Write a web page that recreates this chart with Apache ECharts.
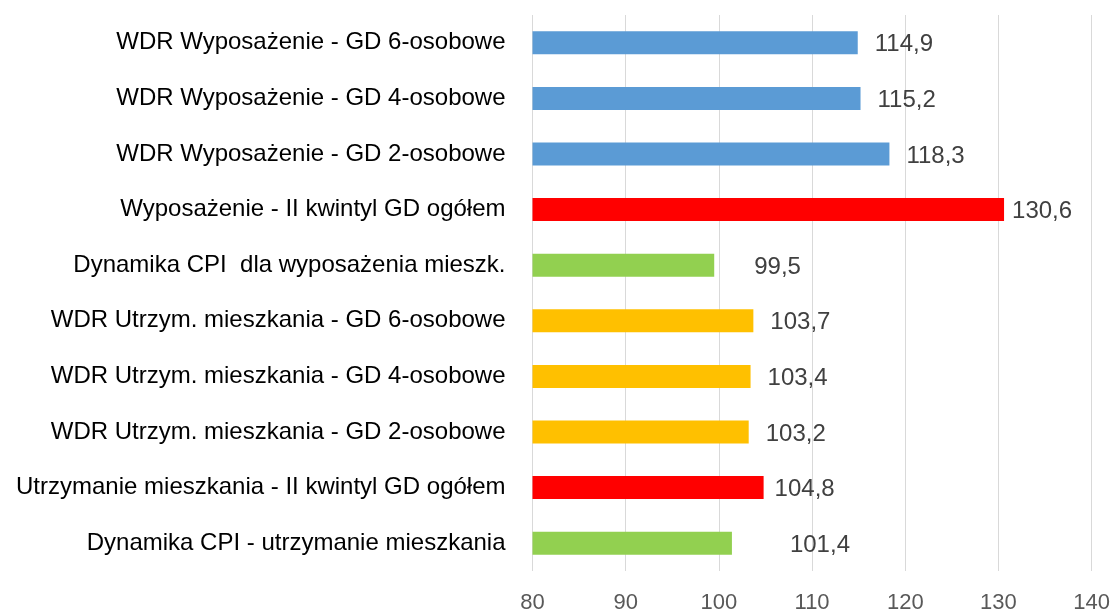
<!DOCTYPE html>
<html>
<head>
<meta charset="utf-8">
<script src="https://cdn.jsdelivr.net/npm/echarts@6/dist/echarts.min.js"></script>
<style>html,body{margin:0;padding:0;background:#fff}#c{width:1113px;height:614px}</style>
</head>
<body>
<div id="c"></div>
<script>
var categories = [
  'WDR Wyposażenie - GD 6-osobowe',
  'WDR Wyposażenie - GD 4-osobowe',
  'WDR Wyposażenie - GD 2-osobowe',
  'Wyposażenie - II kwintyl GD ogółem',
  'Dynamika CPI  dla wyposażenia mieszk.',
  'WDR Utrzym. mieszkania - GD 6-osobowe',
  'WDR Utrzym. mieszkania - GD 4-osobowe',
  'WDR Utrzym. mieszkania - GD 2-osobowe',
  'Utrzymanie mieszkania - II kwintyl GD ogółem',
  'Dynamika CPI - utrzymanie mieszkania'
];
var values = [114.9, 115.2, 118.3, 130.6, 99.5, 103.7, 103.4, 103.2, 104.8, 101.4];
var xTicks = [80, 90, 100, 110, 120, 130, 140];

// styling (kept separate from data)
var barColors = ['#5B9BD5','#5B9BD5','#5B9BD5','#FF0000','#92D050','#FFC000','#FFC000','#FFC000','#FF0000','#92D050'];
var labelGaps = [17, 17, 17, 8, 40, 17, 17, 17, 11, 58];

var FONT = '"Liberation Sans", Arial, sans-serif';
var chart = echarts.init(document.getElementById('c'), null, {renderer: 'canvas'});
chart.setOption({
  animation: false,
  grid: {left: 532.5, right: 17.5, top: 15, bottom: 36, containLabel: false},
  xAxis: {
    type: 'value',
    min: xTicks[0],
    max: xTicks[xTicks.length - 1],
    interval: xTicks[1] - xTicks[0],
    axisLine: {show: false},
    axisTick: {show: false},
    splitLine: {show: true, lineStyle: {color: '#d9d9d9', width: 1}},
    axisLabel: {color: '#595959', fontSize: 22, fontFamily: FONT, margin: 21}
  },
  yAxis: {
    type: 'category',
    inverse: true,
    data: categories,
    axisLine: {show: false},
    axisTick: {show: false},
    splitLine: {show: false},
    axisLabel: {color: '#000000', fontSize: 24, fontFamily: FONT, margin: 27}
  },
  series: [{
    type: 'bar',
    barWidth: 23,
    data: values.map(function (v, i) {
      return {
        value: v,
        itemStyle: {color: barColors[i]},
        label: {distance: labelGaps[i]}
      };
    }),
    label: {
      show: true,
      position: 'right',
      offset: [0, 2],
      color: '#404040',
      fontSize: 24,
      fontFamily: FONT,
      formatter: function (p) { return p.value.toFixed(1).replace('.', ','); }
    }
  }]
});
</script>
</body>
</html>
